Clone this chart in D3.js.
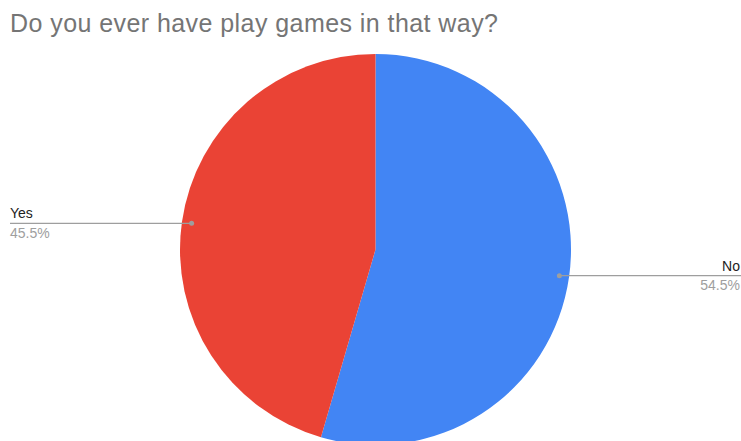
<!DOCTYPE html>
<html>
<head>
<meta charset="utf-8">
<script src="https://cdn.jsdelivr.net/npm/d3@7"></script>
<style>
  html, body { margin: 0; padding: 0; background: #fff; }
  svg { display: block; font-family: Arial, "Liberation Sans", sans-serif; }
</style>
</head>
<body>
<svg id="chart" width="741" height="441"></svg>
<script>
// Survey answers and their shares
const categories = ["No", "Yes"];
const values = [54.5, 45.5];
const colors = ["#4285F4", "#EA4335"];
const titleText = "Do you ever have play games in that way?";

const width = 741, height = 441;
const cx = 375.5, cy = 249.5, radius = 195.5;

const svg = d3.select("#chart");

svg.append("text")
  .attr("x", 10)
  .attr("y", 31.5)
  .attr("fill", "#757575")
  .attr("font-size", 25)
  .attr("textLength", 488)
  .attr("lengthAdjust", "spacing")
  .text(titleText);

const data = categories.map((c, i) => ({ name: c, value: values[i], color: colors[i] }));

const pie = d3.pie().value(d => d.value).sort(null);
const arcs = pie(data);

const arc = d3.arc().innerRadius(0).outerRadius(radius);
const dotArc = d3.arc().innerRadius(radius * 0.95).outerRadius(radius * 0.95);

const g = svg.append("g").attr("transform", `translate(${cx},${cy})`);

g.selectAll("path.slice")
  .data(arcs)
  .join("path")
  .attr("class", "slice")
  .attr("d", arc)
  .attr("fill", d => d.data.color);

// Leader lines with a dot inside the slice and labels at the chart edge
arcs.forEach(a => {
  const [dx, dy] = dotArc.centroid(a);
  const px = cx + dx, py = cy + dy;
  const right = px > cx;
  const endX = right ? width : 10;

  svg.append("line")
    .attr("x1", px).attr("y1", py)
    .attr("x2", endX).attr("y2", py)
    .attr("stroke", "#9e9e9e")
    .attr("stroke-width", 1.2);

  svg.append("circle")
    .attr("cx", px).attr("cy", py).attr("r", 2.5)
    .attr("fill", "#9e9e9e");

  const tx = right ? width - 1 : 10;
  const anchor = right ? "end" : "start";

  svg.append("text")
    .attr("x", tx).attr("y", py - 5)
    .attr("text-anchor", anchor)
    .attr("font-size", 14)
    .attr("fill", "#222")
    .text(a.data.name);

  svg.append("text")
    .attr("x", tx).attr("y", py + 14.5)
    .attr("text-anchor", anchor)
    .attr("font-size", 14)
    .attr("fill", "#9e9e9e")
    .text(d3.format(".1f")(a.data.value) + "%");
});
</script>
</body>
</html>
